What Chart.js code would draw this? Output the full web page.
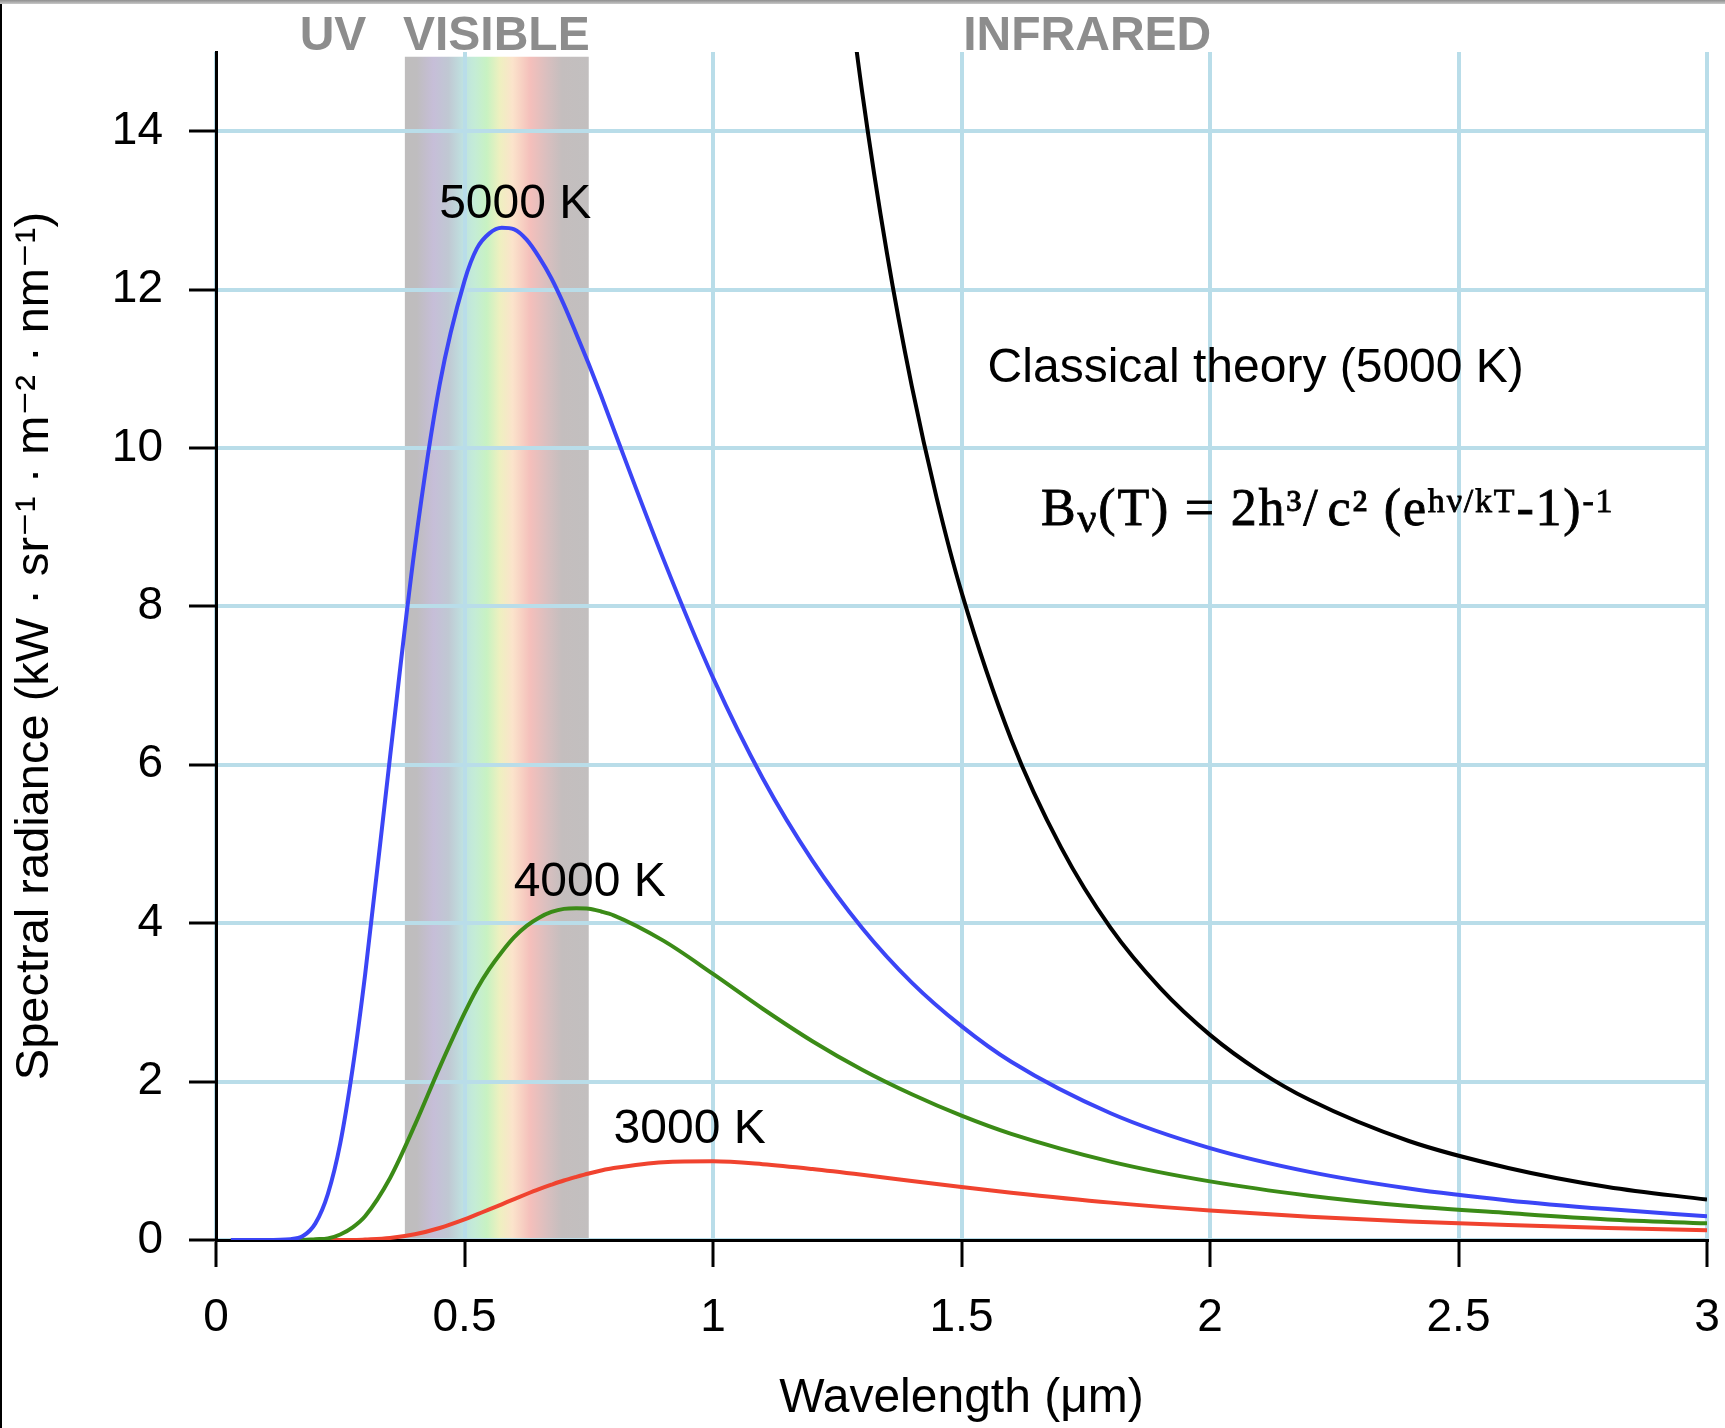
<!DOCTYPE html>
<html>
<head>
<meta charset="utf-8">
<script src="https://cdn.jsdelivr.net/npm/chart.js@4.4.1/dist/chart.umd.min.js"></script>
<style>
  html, body { margin: 0; padding: 0; background: #fff; }
  #wrap { width: 1725px; height: 1428px; }
</style>
</head>
<body>
<div id="wrap"><canvas id="chart" width="1725" height="1428"></canvas></div>
<script>
// values (wavelength in µm, radiance in kW·sr⁻¹·m⁻²·nm⁻¹)
const wavelengths = [0.03, 0.1, 0.15, 0.175, 0.2, 0.225, 0.25, 0.275, 0.3, 0.35, 0.4, 0.45, 0.5,
    0.525, 0.55, 0.575, 0.6, 0.625, 0.65, 0.675, 0.7, 0.725, 0.75, 0.775, 0.8,
    0.9, 1.0, 1.1, 1.2, 1.3, 1.4, 1.5, 1.6, 1.8, 2.0, 2.2, 2.4, 2.6, 2.8, 3.0];
const radiance5000 = [0, 0, 0.01, 0.05, 0.21, 0.58, 1.22, 2.17, 3.35, 6.09, 8.74, 10.80, 12.11,
    12.52, 12.71, 12.78, 12.76, 12.63, 12.41, 12.14, 11.81, 11.44, 11.06, 10.66, 10.24,
    8.60, 7.10, 5.83, 4.79, 3.94, 3.25, 2.70, 2.25, 1.60, 1.16, 0.86, 0.65, 0.50, 0.39, 0.30];
const radiance4000 = [0, 0, 0, 0, 0.01, 0.02, 0.07, 0.16, 0.30, 0.78, 1.45, 2.18, 2.864,
    3.170, 3.423, 3.637, 3.824, 3.967, 4.070, 4.142, 4.181, 4.188, 4.183, 4.148, 4.100,
    3.78, 3.36, 2.92, 2.51, 2.15, 1.84, 1.57, 1.34, 0.99, 0.74, 0.56, 0.43, 0.34, 0.26, 0.21];
const radiance3000 = [0, 0, 0, 0, 0, 0, 0, 0, 0.006, 0.025, 0.072, 0.152, 0.260,
    0.323, 0.386, 0.451, 0.517, 0.581, 0.642, 0.698, 0.751, 0.797, 0.840, 0.877, 0.908,
    0.983, 0.993, 0.957, 0.896, 0.823, 0.744, 0.668, 0.597, 0.472, 0.372, 0.295, 0.235, 0.188, 0.152, 0.124];
const classicalWavelengths = [1.25, 1.3, 1.35, 1.4, 1.45, 1.5, 1.6, 1.7, 1.8, 1.9, 2.0, 2.1, 2.2, 2.4, 2.6, 2.8, 3.0];
const classical5000 = [16.96, 14.50, 12.46, 10.78, 9.37, 8.18, 6.32, 4.96, 3.94, 3.18, 2.59, 2.13, 1.77, 1.25, 0.91, 0.67, 0.51];

const visibleBand = [0.38, 0.75];
const regionNames = ['UV', 'VISIBLE', 'INFRARED'];
const curveNames = ['5000 K', '4000 K', '3000 K', 'Classical theory (5000 K)'];

const SANS = '"Liberation Sans", "DejaVu Sans", Arial, sans-serif';
const SERIF = '"Liberation Serif", "DejaVu Serif", "Times New Roman", serif';
const gridBlue = '#b9dde9';

function points(xs, ys) {
    return xs.map((x, i) => ({ x: x, y: ys[i] }));
}

// where the text annotations go, in data units
const regionSpots = [[0.2355, 15.03], [0.564, 15.03], [1.753, 15.03]];
const curveSpots = [[0.602, 12.90], [0.752, 4.34], [0.953, 1.22], [2.092, 10.83]];
const formulaSpot = { from: 1.66, to: 2.81, y: 9.03 };

const formulaPieces = [
    { text: 'B', size: 52, dy: 0 },
    { text: 'ν', size: 42, dy: 7 },
    { text: '(T) = 2h', size: 52, dy: 0 },
    { text: '³', size: 50, dy: 0 },
    { text: '/', size: 52, dy: 0, gap: 8 },
    { text: 'c', size: 52, dy: 0 },
    { text: '²', size: 50, dy: 0 },
    { text: ' (e', size: 52, dy: 0 },
    { text: 'hν/kT', size: 34, dy: -13 },
    { text: '-1)', size: 52, dy: 0 },
    { text: '-1', size: 34, dy: -13 }
];

const spectrumStops = [
    [0, '#bfbdbd'], [0.065, '#bfbdbf'], [0.156, '#c6bed8'], [0.237, '#c0c8d3'],
    [0.317, '#bfe2e0'], [0.38, '#c4ecd6'], [0.446, '#c8f2c2'], [0.516, '#eef0c0'],
    [0.586, '#fbe3cb'], [0.683, '#f4bfbb'], [0.774, '#d9bfbf'], [0.855, '#c4bebe'], [1, '#c2bfbf']
];

const bandPlugin = {
    id: 'visibleBand',
    beforeDraw(chart) {
        const { ctx, scales: { x, y } } = chart;
        const x0 = x.getPixelForValue(visibleBand[0]);
        const x1 = x.getPixelForValue(visibleBand[1]);
        const top = y.getPixelForValue(14.94);
        const bottom = y.getPixelForValue(0);
        const g = ctx.createLinearGradient(x0, 0, x1, 0);
        spectrumStops.forEach(s => g.addColorStop(s[0], s[1]));
        ctx.save();
        ctx.fillStyle = g;
        ctx.fillRect(x0, top, x1 - x0, bottom - top);
        ctx.restore();
    }
};

function drawFormula(ctx, left, right, baseline) {
    let natural = 0, n = 0;
    formulaPieces.forEach(p => {
        ctx.font = p.size + 'px ' + SERIF;
        for (const ch of p.text) { natural += ctx.measureText(ch).width; n++; }
        natural += p.gap || 0;
    });
    const spacing = (right - left - natural) / (n - 1);
    let pos = left;
    formulaPieces.forEach(p => {
        ctx.font = p.size + 'px ' + SERIF;
        for (const ch of p.text) {
            ctx.fillText(ch, pos, baseline + p.dy);
            ctx.strokeText(ch, pos, baseline + p.dy);
            pos += ctx.measureText(ch).width + spacing;
        }
        pos += p.gap || 0;
    });
}

const textPlugin = {
    id: 'labels',
    afterDatasetsDraw(chart) {
        const { ctx, scales: { x, y } } = chart;
        ctx.save();
        ctx.textBaseline = 'alphabetic';
        ctx.textAlign = 'center';
        ctx.fillStyle = '#8d8d8d';
        ctx.font = 'bold 48px ' + SANS;
        regionNames.forEach((name, i) => {
            ctx.fillText(name, x.getPixelForValue(regionSpots[i][0]), y.getPixelForValue(regionSpots[i][1]));
        });
        ctx.fillStyle = '#000';
        ctx.font = '48px ' + SANS;
        curveNames.forEach((name, i) => {
            ctx.fillText(name, x.getPixelForValue(curveSpots[i][0]), y.getPixelForValue(curveSpots[i][1]));
        });
        ctx.textAlign = 'left';
        ctx.strokeStyle = '#000';
        ctx.lineWidth = 0.8;
        drawFormula(ctx, x.getPixelForValue(formulaSpot.from), x.getPixelForValue(formulaSpot.to), y.getPixelForValue(formulaSpot.y));
        ctx.restore();
    },
    afterDraw(chart) {
        const ctx = chart.ctx;
        ctx.save();
        ctx.fillStyle = '#000';
        ctx.fillRect(0, 0, 2, chart.height);
        const g = ctx.createLinearGradient(0, 0, 0, 4);
        g.addColorStop(0, '#8e8e8e');
        g.addColorStop(1, '#c8c8c8');
        ctx.fillStyle = g;
        ctx.fillRect(0, 0, chart.width, 4);
        ctx.restore();
    }
};

function lineSet(label, xs, ys, color) {
    return {
        label: label,
        data: points(xs, ys),
        borderColor: color,
        backgroundColor: color,
        borderWidth: 4,
        pointRadius: 0,
        fill: false,
        cubicInterpolationMode: 'monotone'
    };
}

new Chart(document.getElementById('chart').getContext('2d'), {
    type: 'line',
    data: {
        datasets: [
            lineSet('5000 K', wavelengths, radiance5000, '#3b45f6'),
            lineSet('4000 K', wavelengths, radiance4000, '#3b8b17'),
            lineSet('3000 K', wavelengths, radiance3000, '#f0432f'),
            lineSet('Classical theory (5000 K)', classicalWavelengths, classical5000, '#000000')
        ]
    },
    options: {
        responsive: false,
        animation: false,
        devicePixelRatio: 1,
        layout: { padding: { top: 52, right: 18, left: 0, bottom: 0 } },
        plugins: { legend: { display: false }, tooltip: { enabled: false } },
        scales: {
            x: {
                type: 'linear',
                min: 0,
                max: 3,
                ticks: { stepSize: 0.5, color: '#000', font: { family: SANS, size: 46 }, padding: 24, maxRotation: 0, callback: v => String(v) },
                grid: { color: gridBlue, lineWidth: 4, tickColor: '#000', tickWidth: 3, tickLength: 27 },
                border: { color: '#000', width: 3 },
                title: { display: true, text: 'Wavelength (μm)', color: '#000', font: { family: SANS, size: 48 }, padding: { top: 0, bottom: 0 } },
                afterFit(scale) { scale.height = 188; scale.paddingLeft = 0; scale.paddingRight = 0; }
            },
            y: {
                type: 'linear',
                min: 0,
                max: 15,
                ticks: { stepSize: 2, includeBounds: false, color: '#000', font: { family: SANS, size: 46 }, padding: 26 },
                grid: { color: gridBlue, lineWidth: 4, tickColor: '#000', tickWidth: 3, tickLength: 27 },
                border: { color: '#000', width: 3 },
                title: { display: true, text: 'Spectral radiance (kW · sr⁻¹ · m⁻² · nm⁻¹)', color: '#000', font: { family: SANS, size: 47 }, padding: { top: 7, bottom: 0 } },
                afterFit(scale) { scale.width = 216; scale.paddingTop = 0; scale.paddingBottom = 0; }
            }
        }
    },
    plugins: [bandPlugin, textPlugin]
});
</script>
</body>
</html>
